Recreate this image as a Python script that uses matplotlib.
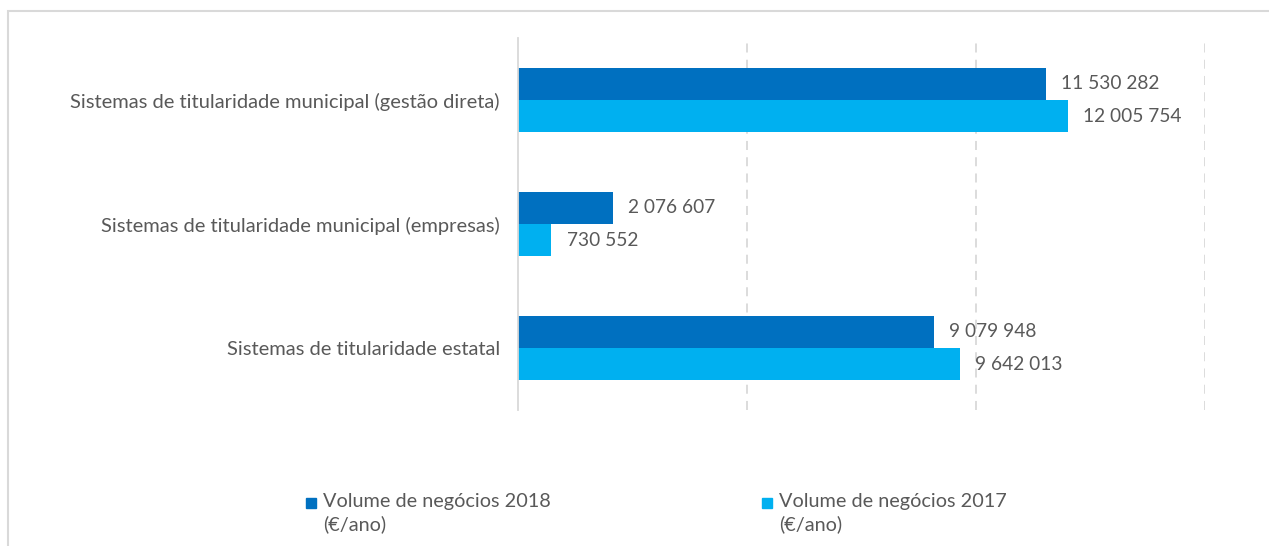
"""Horizontal bar chart comparing turnover of the water systems by ownership type."""
import numpy as np
from matplotlib import pyplot as plt
from matplotlib import patches as mpatches

# categories, top to bottom
categories = ['Sistemas de titularidade municipal (gestão direta)',
              'Sistemas de titularidade municipal (empresas)',
              'Sistemas de titularidade estatal']
# turnover per year (euros)
vol_2018 = [11530282, 2076607, 9079948]
vol_2017 = [12005754, 730552, 9642013]
series_labels = ['Volume de negócios 2018\n(€/ano)', 'Volume de negócios 2017\n(€/ano)']

dark = '#0070C0'
light = '#00B0F0'
grey_text = '#595959'

plt.rcParams['font.family'] = ['Lato', 'DejaVu Sans']

# format number with space as thousands separator
def fmt(v):
    return '{:,}'.format(v).replace(',', ' ')

def plot():
    fig = plt.figure(figsize=(12.69, 5.46), dpi=100)
    ax = fig.add_axes([518/1269, 1 - 410/546, (1205 - 518)/1269, (410 - 38)/546])
    y = np.arange(len(categories))
    h = 0.26
    # 2018 bar on top, 2017 below
    ax.barh(y - h/2, vol_2018, height=h, color=dark)
    ax.barh(y + h/2, vol_2017, height=h, color=light)
    for i in range(len(categories)):
        ax.annotate(fmt(vol_2018[i]), (vol_2018[i], y[i] - h/2), xytext=(11, 0), textcoords='offset points',
                    va='center', ha='left', fontsize=13.8, color=grey_text)
        ax.annotate(fmt(vol_2017[i]), (vol_2017[i], y[i] + h/2), xytext=(11, 0), textcoords='offset points',
                    va='center', ha='left', fontsize=13.8, color=grey_text)
    ax.set_xlim(0, 15000000)
    ax.set_ylim(len(categories) - 0.5, -0.5)
    ax.set_yticks(y)
    ax.set_yticklabels(categories, fontsize=14.5, color=grey_text)
    ax.tick_params(axis='y', length=0, pad=13)
    ax.set_xticks([5000000, 10000000, 15000000])
    ax.tick_params(axis='x', length=0, labelbottom=False)
    ax.xaxis.grid(True, linestyle=(0, (5, 4)), color='#D9D9D9', linewidth=1.3)
    ax.set_axisbelow(True)
    for s in ['top', 'right', 'bottom']:
        ax.spines[s].set_visible(False)
    ax.spines['left'].set_color('#D9D9D9')
    ax.spines['left'].set_linewidth(1.3)
    # legend, drawn by hand so the square sits on the first line
    for x0, c, lab in [(306, dark, series_labels[0]), (762, light, series_labels[1])]:
        fig.add_artist(mpatches.Rectangle((x0/1269, 1 - 508/546), 10/1269, 10/546, color=c,
                                          transform=fig.transFigure))
        fig.text((x0 + 17)/1269, 1 - 493/546, lab, fontsize=14.3, color=grey_text, va='top',
                 ha='left', linespacing=1.35)
    # chart border (only top and left edges are inside the picture)
    fig.add_artist(mpatches.Rectangle((8/1269, -0.1), 1.2, 1 - 11/546 + 0.1, fill=False,
                                      edgecolor='#D9D9D9', linewidth=1.5, transform=fig.transFigure))
    fig.savefig('out.png', dpi=100)

if __name__ == '__main__':
    plot()
